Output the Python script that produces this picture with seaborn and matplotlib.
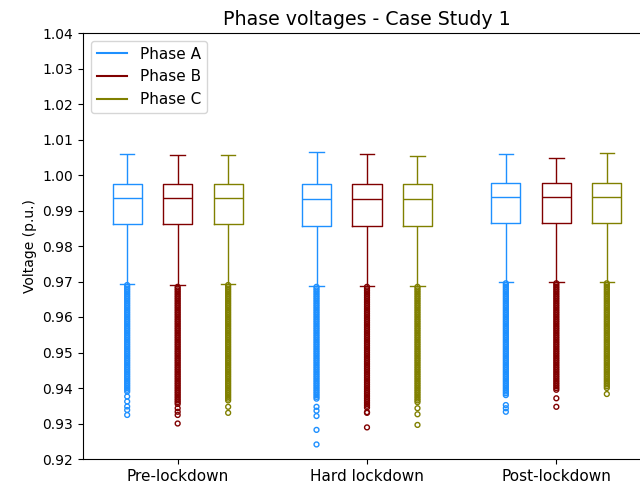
import pandas as pd
import matplotlib.pyplot as plt
import seaborn as sns
from matplotlib.lines import Line2D
from matplotlib.ticker import MultipleLocator, FormatStrFormatter

periods = ["Pre-lockdown", "Hard lockdown", "Post-lockdown"]
phases = ["Phase A", "Phase B", "Phase C"]
colors = ["dodgerblue", "maroon", "olive"]

# box summary per series: lower whisker, Q1, median, Q3, upper whisker
pre_a = [0.9693, 0.9863, 0.9934, 0.9975, 1.0058]
pre_b = [0.9689, 0.9863, 0.9934, 0.9975, 1.0056]
pre_c = [0.9693, 0.9863, 0.9934, 0.9975, 1.0056]
hard_a = [0.9687, 0.9856, 0.9932, 0.9975, 1.0064]
hard_b = [0.9687, 0.9856, 0.9932, 0.9975, 1.0058]
hard_c = [0.9686, 0.9856, 0.9932, 0.9975, 1.0053]
post_a = [0.9700, 0.9866, 0.9937, 0.9977, 1.0058]
post_b = [0.9700, 0.9866, 0.9937, 0.9977, 1.0049]
post_c = [0.9700, 0.9866, 0.9937, 0.9977, 1.0061]

# outlier values read along the solid part of the flier columns
dense_band = [0.9695, 0.9690, 0.9685, 0.9680, 0.9675, 0.9670, 0.9665, 0.9660,
              0.9655, 0.9650, 0.9645, 0.9640, 0.9635, 0.9630, 0.9625, 0.9620,
              0.9615, 0.9610, 0.9605, 0.9600, 0.9595, 0.9590, 0.9585, 0.9580,
              0.9575, 0.9570, 0.9565, 0.9560, 0.9555, 0.9550, 0.9545, 0.9540,
              0.9535, 0.9530, 0.9525, 0.9520, 0.9515, 0.9510, 0.9505, 0.9500,
              0.9495, 0.9490, 0.9485, 0.9480, 0.9475, 0.9470, 0.9465, 0.9460,
              0.9455, 0.9450, 0.9445, 0.9440, 0.9435, 0.9430, 0.9425, 0.9420,
              0.9415, 0.9410, 0.9405, 0.9400, 0.9395, 0.9390, 0.9385, 0.9380,
              0.9375, 0.9370, 0.9365, 0.9360, 0.9355, 0.9350, 0.9345]

# lowest value of the solid part, per series
pre_a_dense_end = 0.9386
pre_b_dense_end = 0.9352
pre_c_dense_end = 0.9361
hard_a_dense_end = 0.9366
hard_b_dense_end = 0.9345
hard_c_dense_end = 0.9357
post_a_dense_end = 0.9376
post_b_dense_end = 0.9394
post_c_dense_end = 0.9399

# isolated outliers below the solid part
pre_a_tail = [0.9376, 0.9362, 0.9348, 0.9338, 0.9324]
pre_b_tail = [0.9343, 0.9333, 0.9324, 0.9300]
pre_c_tail = [0.9347, 0.9330]
hard_a_tail = [0.9347, 0.9336, 0.9321, 0.9282, 0.9241]
hard_b_tail = [0.9332, 0.9330, 0.9289]
hard_c_tail = [0.9343, 0.9326, 0.9296]
post_a_tail = [0.9352, 0.9343, 0.9333]
post_b_tail = [0.9371, 0.9347]
post_c_tail = [0.9383]

boxes = {
    ("Pre-lockdown", "Phase A"): (pre_a, pre_a_dense_end, pre_a_tail),
    ("Pre-lockdown", "Phase B"): (pre_b, pre_b_dense_end, pre_b_tail),
    ("Pre-lockdown", "Phase C"): (pre_c, pre_c_dense_end, pre_c_tail),
    ("Hard lockdown", "Phase A"): (hard_a, hard_a_dense_end, hard_a_tail),
    ("Hard lockdown", "Phase B"): (hard_b, hard_b_dense_end, hard_b_tail),
    ("Hard lockdown", "Phase C"): (hard_c, hard_c_dense_end, hard_c_tail),
    ("Post-lockdown", "Phase A"): (post_a, post_a_dense_end, post_a_tail),
    ("Post-lockdown", "Phase B"): (post_b, post_b_dense_end, post_b_tail),
    ("Post-lockdown", "Phase C"): (post_c, post_c_dense_end, post_c_tail),
}

box_rows = []
out_rows = []
for (period, phase), (summary, dense_end, tail) in boxes.items():
    for v in summary:
        box_rows.append({"period": period, "phase": phase, "voltage": v})
    outliers = [v for v in dense_band if dense_end <= v < summary[0]] + tail
    for v in outliers:
        out_rows.append({"period": period, "phase": phase, "voltage": v})
box_df = pd.DataFrame(box_rows)
out_df = pd.DataFrame(out_rows)

fig = plt.figure(figsize=(6.4, 4.86), dpi=100)
ax = fig.add_axes([83 / 640, 27 / 486, 568 / 640, 426 / 486])

sns.boxplot(data=box_df, x="period", y="voltage", hue="phase",
            order=periods, hue_order=phases, palette=colors,
            fill=False, whis=(0, 100), width=0.8, gap=0.42,
            linewidth=1, showfliers=False, legend=False, ax=ax)

sns.stripplot(data=out_df, x="period", y="voltage", hue="phase",
              order=periods, hue_order=phases, palette=colors,
              dodge=True, jitter=False, size=3.5, legend=False, ax=ax)

# open circle fliers
for coll in ax.collections:
    fc = coll.get_facecolor()
    coll.set_edgecolor(fc)
    coll.set_facecolor("none")
    coll.set_linewidth(1.0)

ax.set_xlim(-0.5, 2.5)
ax.set_ylim(0.92, 1.04)
ax.yaxis.set_major_locator(MultipleLocator(0.01))
ax.yaxis.set_major_formatter(FormatStrFormatter("%.2f"))
ax.tick_params(axis="x", labelsize=11)
ax.set_xlabel("")
ax.set_ylabel("Voltage (p.u.)")
ax.set_title("Phase voltages - Case Study 1", fontsize=13.7)

handles = [Line2D([0], [0], color=c, lw=1.5) for c in colors]
ax.legend(handles, phases, loc="upper left", fontsize=11)

plt.savefig("out.png")
